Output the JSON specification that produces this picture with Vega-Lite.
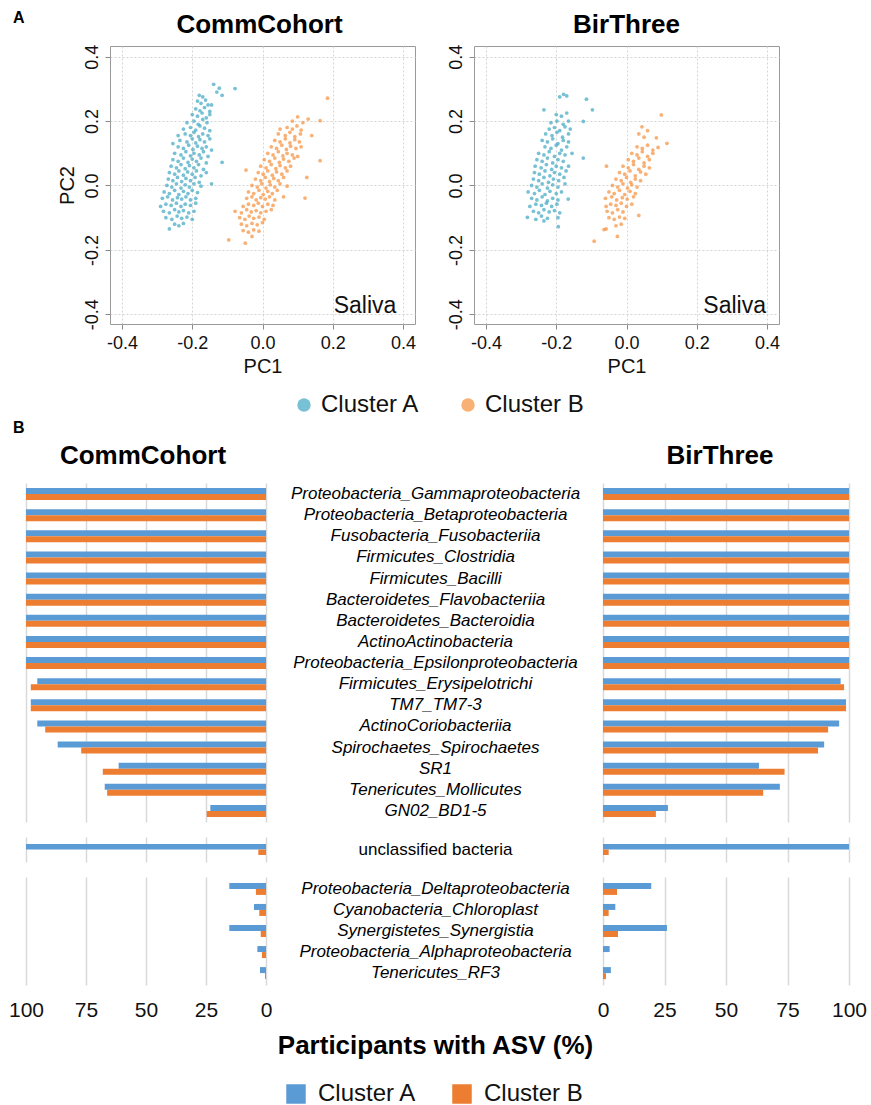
{
  "$schema": "https://vega.github.io/schema/vega-lite/v6.json",
  "background": "white",
  "padding": {"left": 8, "top": 10, "right": 0, "bottom": 0},
  "config": {
    "font": "Liberation Sans",
    "view": {"stroke": null},
    "title": {"font": "Liberation Sans", "color": "#000000"},
    "axis": {"labelFont": "Liberation Sans", "titleFont": "Liberation Sans", "labelColor": "#111111", "titleColor": "#111111"},
    "legend": {"labelFont": "Liberation Sans", "labelColor": "#111111"}
  },
  "datasets": {
    "comm": [
      {"cl":"Cluster A","pc1":-0.18,"pc2":0.28},{"cl":"Cluster A","pc1":-0.17,"pc2":0.275},
      {"cl":"Cluster A","pc1":-0.185,"pc2":0.262},{"cl":"Cluster A","pc1":-0.175,"pc2":0.255},{"cl":"Cluster A","pc1":-0.162,"pc2":0.265},{"cl":"Cluster A","pc1":-0.155,"pc2":0.25},
      {"cl":"Cluster A","pc1":-0.19,"pc2":0.238},{"cl":"Cluster A","pc1":-0.178,"pc2":0.232},{"cl":"Cluster A","pc1":-0.165,"pc2":0.242},
      {"cl":"Cluster A","pc1":-0.2,"pc2":0.22},{"cl":"Cluster A","pc1":-0.185,"pc2":0.215},{"cl":"Cluster A","pc1":-0.172,"pc2":0.225},{"cl":"Cluster A","pc1":-0.16,"pc2":0.21},{"cl":"Cluster A","pc1":-0.15,"pc2":0.22},
      {"cl":"Cluster A","pc1":-0.215,"pc2":0.195},{"cl":"Cluster A","pc1":-0.195,"pc2":0.2},{"cl":"Cluster A","pc1":-0.183,"pc2":0.19},{"cl":"Cluster A","pc1":-0.17,"pc2":0.205},{"cl":"Cluster A","pc1":-0.158,"pc2":0.195},
      {"cl":"Cluster A","pc1":-0.225,"pc2":0.175},{"cl":"Cluster A","pc1":-0.205,"pc2":0.18},{"cl":"Cluster A","pc1":-0.19,"pc2":0.172},{"cl":"Cluster A","pc1":-0.178,"pc2":0.185},{"cl":"Cluster A","pc1":-0.165,"pc2":0.178},{"cl":"Cluster A","pc1":-0.15,"pc2":0.17},
      {"cl":"Cluster A","pc1":-0.24,"pc2":0.155},{"cl":"Cluster A","pc1":-0.22,"pc2":0.16},{"cl":"Cluster A","pc1":-0.205,"pc2":0.155},{"cl":"Cluster A","pc1":-0.195,"pc2":0.165},{"cl":"Cluster A","pc1":-0.182,"pc2":0.152},{"cl":"Cluster A","pc1":-0.17,"pc2":0.16},{"cl":"Cluster A","pc1":-0.155,"pc2":0.155},
      {"cl":"Cluster A","pc1":-0.255,"pc2":0.13},{"cl":"Cluster A","pc1":-0.235,"pc2":0.14},{"cl":"Cluster A","pc1":-0.215,"pc2":0.135},{"cl":"Cluster A","pc1":-0.2,"pc2":0.145},{"cl":"Cluster A","pc1":-0.19,"pc2":0.132},{"cl":"Cluster A","pc1":-0.178,"pc2":0.142},{"cl":"Cluster A","pc1":-0.165,"pc2":0.135},{"cl":"Cluster A","pc1":-0.15,"pc2":0.145},
      {"cl":"Cluster A","pc1":-0.24,"pc2":0.12},{"cl":"Cluster A","pc1":-0.225,"pc2":0.115},{"cl":"Cluster A","pc1":-0.21,"pc2":0.125},{"cl":"Cluster A","pc1":-0.198,"pc2":0.112},{"cl":"Cluster A","pc1":-0.185,"pc2":0.122},{"cl":"Cluster A","pc1":-0.172,"pc2":0.115},{"cl":"Cluster A","pc1":-0.16,"pc2":0.12},{"cl":"Cluster A","pc1":-0.145,"pc2":0.11},
      {"cl":"Cluster A","pc1":-0.25,"pc2":0.1},{"cl":"Cluster A","pc1":-0.232,"pc2":0.095},{"cl":"Cluster A","pc1":-0.218,"pc2":0.105},{"cl":"Cluster A","pc1":-0.205,"pc2":0.092},{"cl":"Cluster A","pc1":-0.195,"pc2":0.1},{"cl":"Cluster A","pc1":-0.18,"pc2":0.095},{"cl":"Cluster A","pc1":-0.168,"pc2":0.105},{"cl":"Cluster A","pc1":-0.155,"pc2":0.09},
      {"cl":"Cluster A","pc1":-0.255,"pc2":0.08},{"cl":"Cluster A","pc1":-0.24,"pc2":0.075},{"cl":"Cluster A","pc1":-0.225,"pc2":0.085},{"cl":"Cluster A","pc1":-0.212,"pc2":0.072},{"cl":"Cluster A","pc1":-0.2,"pc2":0.082},{"cl":"Cluster A","pc1":-0.188,"pc2":0.075},{"cl":"Cluster A","pc1":-0.175,"pc2":0.085},{"cl":"Cluster A","pc1":-0.16,"pc2":0.07},{"cl":"Cluster A","pc1":-0.115,"pc2":0.072},
      {"cl":"Cluster A","pc1":-0.26,"pc2":0.06},{"cl":"Cluster A","pc1":-0.245,"pc2":0.055},{"cl":"Cluster A","pc1":-0.232,"pc2":0.065},{"cl":"Cluster A","pc1":-0.22,"pc2":0.052},{"cl":"Cluster A","pc1":-0.208,"pc2":0.062},{"cl":"Cluster A","pc1":-0.195,"pc2":0.055},{"cl":"Cluster A","pc1":-0.182,"pc2":0.065},{"cl":"Cluster A","pc1":-0.168,"pc2":0.05},
      {"cl":"Cluster A","pc1":-0.265,"pc2":0.04},{"cl":"Cluster A","pc1":-0.25,"pc2":0.035},{"cl":"Cluster A","pc1":-0.238,"pc2":0.045},{"cl":"Cluster A","pc1":-0.225,"pc2":0.032},{"cl":"Cluster A","pc1":-0.213,"pc2":0.042},{"cl":"Cluster A","pc1":-0.2,"pc2":0.035},{"cl":"Cluster A","pc1":-0.188,"pc2":0.045},{"cl":"Cluster A","pc1":-0.175,"pc2":0.03},{"cl":"Cluster A","pc1":-0.16,"pc2":0.04},
      {"cl":"Cluster A","pc1":-0.268,"pc2":0.02},{"cl":"Cluster A","pc1":-0.255,"pc2":0.015},{"cl":"Cluster A","pc1":-0.242,"pc2":0.025},{"cl":"Cluster A","pc1":-0.23,"pc2":0.012},{"cl":"Cluster A","pc1":-0.218,"pc2":0.022},{"cl":"Cluster A","pc1":-0.205,"pc2":0.015},{"cl":"Cluster A","pc1":-0.192,"pc2":0.025},{"cl":"Cluster A","pc1":-0.18,"pc2":0.01},
      {"cl":"Cluster A","pc1":-0.272,"pc2":0.0},{"cl":"Cluster A","pc1":-0.258,"pc2":-0.005},{"cl":"Cluster A","pc1":-0.245,"pc2":0.005},{"cl":"Cluster A","pc1":-0.232,"pc2":-0.008},{"cl":"Cluster A","pc1":-0.22,"pc2":0.002},{"cl":"Cluster A","pc1":-0.208,"pc2":-0.005},{"cl":"Cluster A","pc1":-0.195,"pc2":0.005},{"cl":"Cluster A","pc1":-0.175,"pc2":-0.002},{"cl":"Cluster A","pc1":-0.145,"pc2":0.005},
      {"cl":"Cluster A","pc1":-0.28,"pc2":-0.02},{"cl":"Cluster A","pc1":-0.265,"pc2":-0.025},{"cl":"Cluster A","pc1":-0.25,"pc2":-0.015},{"cl":"Cluster A","pc1":-0.238,"pc2":-0.028},{"cl":"Cluster A","pc1":-0.225,"pc2":-0.018},{"cl":"Cluster A","pc1":-0.212,"pc2":-0.025},{"cl":"Cluster A","pc1":-0.2,"pc2":-0.015},{"cl":"Cluster A","pc1":-0.185,"pc2":-0.022},
      {"cl":"Cluster A","pc1":-0.285,"pc2":-0.04},{"cl":"Cluster A","pc1":-0.27,"pc2":-0.035},{"cl":"Cluster A","pc1":-0.256,"pc2":-0.045},{"cl":"Cluster A","pc1":-0.242,"pc2":-0.038},{"cl":"Cluster A","pc1":-0.23,"pc2":-0.042},{"cl":"Cluster A","pc1":-0.218,"pc2":-0.035},{"cl":"Cluster A","pc1":-0.205,"pc2":-0.045},{"cl":"Cluster A","pc1":-0.19,"pc2":-0.04},
      {"cl":"Cluster A","pc1":-0.29,"pc2":-0.065},{"cl":"Cluster A","pc1":-0.275,"pc2":-0.058},{"cl":"Cluster A","pc1":-0.26,"pc2":-0.062},{"cl":"Cluster A","pc1":-0.245,"pc2":-0.055},{"cl":"Cluster A","pc1":-0.232,"pc2":-0.065},{"cl":"Cluster A","pc1":-0.22,"pc2":-0.058},{"cl":"Cluster A","pc1":-0.205,"pc2":-0.062},{"cl":"Cluster A","pc1":-0.19,"pc2":-0.055},
      {"cl":"Cluster A","pc1":-0.282,"pc2":-0.08},{"cl":"Cluster A","pc1":-0.265,"pc2":-0.085},{"cl":"Cluster A","pc1":-0.25,"pc2":-0.075},{"cl":"Cluster A","pc1":-0.238,"pc2":-0.082},{"cl":"Cluster A","pc1":-0.225,"pc2":-0.078},{"cl":"Cluster A","pc1":-0.21,"pc2":-0.085},{"cl":"Cluster A","pc1":-0.195,"pc2":-0.08},
      {"cl":"Cluster A","pc1":-0.275,"pc2":-0.1},{"cl":"Cluster A","pc1":-0.258,"pc2":-0.105},{"cl":"Cluster A","pc1":-0.243,"pc2":-0.095},{"cl":"Cluster A","pc1":-0.23,"pc2":-0.102},{"cl":"Cluster A","pc1":-0.215,"pc2":-0.098},{"cl":"Cluster A","pc1":-0.2,"pc2":-0.105},
      {"cl":"Cluster A","pc1":-0.265,"pc2":-0.135},{"cl":"Cluster A","pc1":-0.25,"pc2":-0.12},{"cl":"Cluster A","pc1":-0.238,"pc2":-0.125},{"cl":"Cluster A","pc1":-0.225,"pc2":-0.118},
      {"cl":"Cluster A","pc1":-0.139,"pc2":0.314},{"cl":"Cluster A","pc1":-0.123,"pc2":0.302},{"cl":"Cluster A","pc1":-0.078,"pc2":0.301},{"cl":"Cluster A","pc1":-0.115,"pc2":0.28},{"cl":"Cluster A","pc1":-0.13,"pc2":0.29},{"cl":"Cluster A","pc1":-0.145,"pc2":0.25},{"cl":"Cluster A","pc1":-0.15,"pc2":0.23},
      {"cl":"Cluster B","pc1":0.185,"pc2":0.271},
      {"cl":"Cluster B","pc1":0.1,"pc2":0.213},{"cl":"Cluster B","pc1":0.13,"pc2":0.206},{"cl":"Cluster B","pc1":0.164,"pc2":0.201},{"cl":"Cluster B","pc1":0.085,"pc2":0.2},{"cl":"Cluster B","pc1":0.115,"pc2":0.195},
      {"cl":"Cluster B","pc1":0.07,"pc2":0.18},{"cl":"Cluster B","pc1":0.085,"pc2":0.175},{"cl":"Cluster B","pc1":0.098,"pc2":0.185},{"cl":"Cluster B","pc1":0.11,"pc2":0.172},{"cl":"Cluster B","pc1":0.05,"pc2":0.175},
      {"cl":"Cluster B","pc1":0.045,"pc2":0.16},{"cl":"Cluster B","pc1":0.065,"pc2":0.155},{"cl":"Cluster B","pc1":0.078,"pc2":0.165},{"cl":"Cluster B","pc1":0.092,"pc2":0.152},{"cl":"Cluster B","pc1":0.108,"pc2":0.16},{"cl":"Cluster B","pc1":0.14,"pc2":0.155},
      {"cl":"Cluster B","pc1":0.035,"pc2":0.14},{"cl":"Cluster B","pc1":0.05,"pc2":0.135},{"cl":"Cluster B","pc1":0.065,"pc2":0.145},{"cl":"Cluster B","pc1":0.078,"pc2":0.132},{"cl":"Cluster B","pc1":0.092,"pc2":0.142},{"cl":"Cluster B","pc1":0.105,"pc2":0.135},
      {"cl":"Cluster B","pc1":0.025,"pc2":0.12},{"cl":"Cluster B","pc1":0.04,"pc2":0.115},{"cl":"Cluster B","pc1":0.055,"pc2":0.125},{"cl":"Cluster B","pc1":0.068,"pc2":0.112},{"cl":"Cluster B","pc1":0.08,"pc2":0.122},{"cl":"Cluster B","pc1":0.095,"pc2":0.115},{"cl":"Cluster B","pc1":0.11,"pc2":0.12},
      {"cl":"Cluster B","pc1":0.015,"pc2":0.1},{"cl":"Cluster B","pc1":0.03,"pc2":0.095},{"cl":"Cluster B","pc1":0.045,"pc2":0.105},{"cl":"Cluster B","pc1":0.058,"pc2":0.092},{"cl":"Cluster B","pc1":0.07,"pc2":0.1},{"cl":"Cluster B","pc1":0.085,"pc2":0.095},{"cl":"Cluster B","pc1":0.1,"pc2":0.09},
      {"cl":"Cluster B","pc1":0.005,"pc2":0.08},{"cl":"Cluster B","pc1":0.02,"pc2":0.075},{"cl":"Cluster B","pc1":0.035,"pc2":0.085},{"cl":"Cluster B","pc1":0.048,"pc2":0.072},{"cl":"Cluster B","pc1":0.06,"pc2":0.082},{"cl":"Cluster B","pc1":0.075,"pc2":0.075},{"cl":"Cluster B","pc1":0.09,"pc2":0.085},{"cl":"Cluster B","pc1":0.164,"pc2":0.077},
      {"cl":"Cluster B","pc1":-0.005,"pc2":0.06},{"cl":"Cluster B","pc1":0.01,"pc2":0.055},{"cl":"Cluster B","pc1":0.025,"pc2":0.065},{"cl":"Cluster B","pc1":0.038,"pc2":0.052},{"cl":"Cluster B","pc1":0.05,"pc2":0.062},{"cl":"Cluster B","pc1":0.065,"pc2":0.055},{"cl":"Cluster B","pc1":0.08,"pc2":0.06},
      {"cl":"Cluster B","pc1":-0.047,"pc2":0.048},{"cl":"Cluster B","pc1":-0.012,"pc2":0.04},{"cl":"Cluster B","pc1":0.002,"pc2":0.035},{"cl":"Cluster B","pc1":0.015,"pc2":0.045},{"cl":"Cluster B","pc1":0.028,"pc2":0.032},{"cl":"Cluster B","pc1":0.04,"pc2":0.042},{"cl":"Cluster B","pc1":0.055,"pc2":0.035},{"cl":"Cluster B","pc1":0.07,"pc2":0.045},
      {"cl":"Cluster B","pc1":-0.02,"pc2":0.02},{"cl":"Cluster B","pc1":-0.005,"pc2":0.015},{"cl":"Cluster B","pc1":0.008,"pc2":0.025},{"cl":"Cluster B","pc1":0.02,"pc2":0.012},{"cl":"Cluster B","pc1":0.032,"pc2":0.022},{"cl":"Cluster B","pc1":0.045,"pc2":0.015},{"cl":"Cluster B","pc1":0.06,"pc2":0.025},{"cl":"Cluster B","pc1":0.126,"pc2":0.025},
      {"cl":"Cluster B","pc1":-0.03,"pc2":0.0},{"cl":"Cluster B","pc1":-0.015,"pc2":-0.005},{"cl":"Cluster B","pc1":-0.002,"pc2":0.005},{"cl":"Cluster B","pc1":0.01,"pc2":-0.008},{"cl":"Cluster B","pc1":0.022,"pc2":0.002},{"cl":"Cluster B","pc1":0.035,"pc2":-0.005},{"cl":"Cluster B","pc1":0.05,"pc2":0.005},{"cl":"Cluster B","pc1":0.07,"pc2":-0.002},
      {"cl":"Cluster B","pc1":-0.04,"pc2":-0.02},{"cl":"Cluster B","pc1":-0.025,"pc2":-0.025},{"cl":"Cluster B","pc1":-0.01,"pc2":-0.015},{"cl":"Cluster B","pc1":0.002,"pc2":-0.028},{"cl":"Cluster B","pc1":0.015,"pc2":-0.018},{"cl":"Cluster B","pc1":0.028,"pc2":-0.025},{"cl":"Cluster B","pc1":0.042,"pc2":-0.015},
      {"cl":"Cluster B","pc1":-0.045,"pc2":-0.04},{"cl":"Cluster B","pc1":-0.03,"pc2":-0.035},{"cl":"Cluster B","pc1":-0.018,"pc2":-0.045},{"cl":"Cluster B","pc1":-0.005,"pc2":-0.038},{"cl":"Cluster B","pc1":0.008,"pc2":-0.042},{"cl":"Cluster B","pc1":0.02,"pc2":-0.035},{"cl":"Cluster B","pc1":0.035,"pc2":-0.045},{"cl":"Cluster B","pc1":0.121,"pc2":-0.039},{"cl":"Cluster B","pc1":0.06,"pc2":-0.035},
      {"cl":"Cluster B","pc1":-0.055,"pc2":-0.065},{"cl":"Cluster B","pc1":-0.04,"pc2":-0.058},{"cl":"Cluster B","pc1":-0.025,"pc2":-0.062},{"cl":"Cluster B","pc1":-0.012,"pc2":-0.055},{"cl":"Cluster B","pc1":0.0,"pc2":-0.065},{"cl":"Cluster B","pc1":0.015,"pc2":-0.058},{"cl":"Cluster B","pc1":0.03,"pc2":-0.062},
      {"cl":"Cluster B","pc1":-0.078,"pc2":-0.08},{"cl":"Cluster B","pc1":-0.06,"pc2":-0.085},{"cl":"Cluster B","pc1":-0.045,"pc2":-0.075},{"cl":"Cluster B","pc1":-0.032,"pc2":-0.082},{"cl":"Cluster B","pc1":-0.018,"pc2":-0.078},{"cl":"Cluster B","pc1":-0.005,"pc2":-0.085},{"cl":"Cluster B","pc1":0.01,"pc2":-0.08},{"cl":"Cluster B","pc1":0.025,"pc2":-0.075},
      {"cl":"Cluster B","pc1":-0.065,"pc2":-0.1},{"cl":"Cluster B","pc1":-0.05,"pc2":-0.105},{"cl":"Cluster B","pc1":-0.038,"pc2":-0.095},{"cl":"Cluster B","pc1":-0.025,"pc2":-0.102},{"cl":"Cluster B","pc1":-0.01,"pc2":-0.098},{"cl":"Cluster B","pc1":0.005,"pc2":-0.105},
      {"cl":"Cluster B","pc1":-0.06,"pc2":-0.12},{"cl":"Cluster B","pc1":-0.045,"pc2":-0.125},{"cl":"Cluster B","pc1":-0.03,"pc2":-0.118},{"cl":"Cluster B","pc1":-0.015,"pc2":-0.122},{"cl":"Cluster B","pc1":0.0,"pc2":-0.115},
      {"cl":"Cluster B","pc1":-0.055,"pc2":-0.14},{"cl":"Cluster B","pc1":-0.04,"pc2":-0.145},{"cl":"Cluster B","pc1":-0.025,"pc2":-0.138},{"cl":"Cluster B","pc1":-0.01,"pc2":-0.142},
      {"cl":"Cluster B","pc1":-0.096,"pc2":-0.169},{"cl":"Cluster B","pc1":-0.049,"pc2":-0.179},{"cl":"Cluster B","pc1":-0.03,"pc2":-0.158}
    ],
    "bir": [
      {"cl":"Cluster A","pc1":-0.179,"pc2":0.283},{"cl":"Cluster A","pc1":-0.19,"pc2":0.275},{"cl":"Cluster A","pc1":-0.17,"pc2":0.278},
      {"cl":"Cluster A","pc1":-0.114,"pc2":0.268},{"cl":"Cluster A","pc1":-0.097,"pc2":0.235},{"cl":"Cluster A","pc1":-0.123,"pc2":0.199},{"cl":"Cluster A","pc1":-0.235,"pc2":0.235},
      {"cl":"Cluster A","pc1":-0.2,"pc2":0.22},{"cl":"Cluster A","pc1":-0.185,"pc2":0.215},{"cl":"Cluster A","pc1":-0.17,"pc2":0.225},
      {"cl":"Cluster A","pc1":-0.215,"pc2":0.195},{"cl":"Cluster A","pc1":-0.198,"pc2":0.2},{"cl":"Cluster A","pc1":-0.18,"pc2":0.19},{"cl":"Cluster A","pc1":-0.165,"pc2":0.2},
      {"cl":"Cluster A","pc1":-0.22,"pc2":0.175},{"cl":"Cluster A","pc1":-0.205,"pc2":0.18},{"cl":"Cluster A","pc1":-0.19,"pc2":0.17},{"cl":"Cluster A","pc1":-0.175,"pc2":0.182},{"cl":"Cluster A","pc1":-0.16,"pc2":0.175},
      {"cl":"Cluster A","pc1":-0.23,"pc2":0.16},{"cl":"Cluster A","pc1":-0.212,"pc2":0.155},{"cl":"Cluster A","pc1":-0.198,"pc2":0.165},{"cl":"Cluster A","pc1":-0.182,"pc2":0.15},{"cl":"Cluster A","pc1":-0.165,"pc2":0.16},
      {"cl":"Cluster A","pc1":-0.24,"pc2":0.14},{"cl":"Cluster A","pc1":-0.225,"pc2":0.135},{"cl":"Cluster A","pc1":-0.21,"pc2":0.145},{"cl":"Cluster A","pc1":-0.195,"pc2":0.13},{"cl":"Cluster A","pc1":-0.18,"pc2":0.14},{"cl":"Cluster A","pc1":-0.165,"pc2":0.135},
      {"cl":"Cluster A","pc1":-0.232,"pc2":0.12},{"cl":"Cluster A","pc1":-0.215,"pc2":0.115},{"cl":"Cluster A","pc1":-0.2,"pc2":0.125},{"cl":"Cluster A","pc1":-0.185,"pc2":0.11},{"cl":"Cluster A","pc1":-0.17,"pc2":0.12},
      {"cl":"Cluster A","pc1":-0.25,"pc2":0.1},{"cl":"Cluster A","pc1":-0.235,"pc2":0.095},{"cl":"Cluster A","pc1":-0.22,"pc2":0.105},{"cl":"Cluster A","pc1":-0.205,"pc2":0.09},{"cl":"Cluster A","pc1":-0.19,"pc2":0.1},{"cl":"Cluster A","pc1":-0.175,"pc2":0.095},{"cl":"Cluster A","pc1":-0.155,"pc2":0.1},
      {"cl":"Cluster A","pc1":-0.255,"pc2":0.08},{"cl":"Cluster A","pc1":-0.24,"pc2":0.075},{"cl":"Cluster A","pc1":-0.225,"pc2":0.085},{"cl":"Cluster A","pc1":-0.21,"pc2":0.07},{"cl":"Cluster A","pc1":-0.195,"pc2":0.08},{"cl":"Cluster A","pc1":-0.18,"pc2":0.075},{"cl":"Cluster A","pc1":-0.123,"pc2":0.085},
      {"cl":"Cluster A","pc1":-0.26,"pc2":0.06},{"cl":"Cluster A","pc1":-0.243,"pc2":0.055},{"cl":"Cluster A","pc1":-0.228,"pc2":0.065},{"cl":"Cluster A","pc1":-0.213,"pc2":0.05},{"cl":"Cluster A","pc1":-0.2,"pc2":0.06},{"cl":"Cluster A","pc1":-0.185,"pc2":0.055},{"cl":"Cluster A","pc1":-0.165,"pc2":0.06},
      {"cl":"Cluster A","pc1":-0.262,"pc2":0.04},{"cl":"Cluster A","pc1":-0.248,"pc2":0.035},{"cl":"Cluster A","pc1":-0.232,"pc2":0.045},{"cl":"Cluster A","pc1":-0.218,"pc2":0.03},{"cl":"Cluster A","pc1":-0.205,"pc2":0.04},{"cl":"Cluster A","pc1":-0.19,"pc2":0.035},{"cl":"Cluster A","pc1":-0.172,"pc2":0.045},
      {"cl":"Cluster A","pc1":-0.265,"pc2":0.02},{"cl":"Cluster A","pc1":-0.25,"pc2":0.015},{"cl":"Cluster A","pc1":-0.235,"pc2":0.025},{"cl":"Cluster A","pc1":-0.222,"pc2":0.01},{"cl":"Cluster A","pc1":-0.208,"pc2":0.02},{"cl":"Cluster A","pc1":-0.193,"pc2":0.015},{"cl":"Cluster A","pc1":-0.178,"pc2":0.025},
      {"cl":"Cluster A","pc1":-0.27,"pc2":0.0},{"cl":"Cluster A","pc1":-0.255,"pc2":-0.005},{"cl":"Cluster A","pc1":-0.24,"pc2":0.005},{"cl":"Cluster A","pc1":-0.225,"pc2":-0.008},{"cl":"Cluster A","pc1":-0.21,"pc2":0.002},{"cl":"Cluster A","pc1":-0.195,"pc2":-0.005},{"cl":"Cluster A","pc1":-0.175,"pc2":0.005},
      {"cl":"Cluster A","pc1":-0.28,"pc2":-0.02},{"cl":"Cluster A","pc1":-0.262,"pc2":-0.025},{"cl":"Cluster A","pc1":-0.248,"pc2":-0.015},{"cl":"Cluster A","pc1":-0.232,"pc2":-0.028},{"cl":"Cluster A","pc1":-0.218,"pc2":-0.018},{"cl":"Cluster A","pc1":-0.2,"pc2":-0.025},{"cl":"Cluster A","pc1":-0.185,"pc2":-0.02},
      {"cl":"Cluster A","pc1":-0.27,"pc2":-0.04},{"cl":"Cluster A","pc1":-0.255,"pc2":-0.045},{"cl":"Cluster A","pc1":-0.24,"pc2":-0.035},{"cl":"Cluster A","pc1":-0.225,"pc2":-0.048},{"cl":"Cluster A","pc1":-0.21,"pc2":-0.04},{"cl":"Cluster A","pc1":-0.195,"pc2":-0.045},{"cl":"Cluster A","pc1":-0.166,"pc2":-0.042},
      {"cl":"Cluster A","pc1":-0.275,"pc2":-0.065},{"cl":"Cluster A","pc1":-0.258,"pc2":-0.058},{"cl":"Cluster A","pc1":-0.242,"pc2":-0.062},{"cl":"Cluster A","pc1":-0.228,"pc2":-0.055},{"cl":"Cluster A","pc1":-0.213,"pc2":-0.065},{"cl":"Cluster A","pc1":-0.198,"pc2":-0.058},
      {"cl":"Cluster A","pc1":-0.265,"pc2":-0.08},{"cl":"Cluster A","pc1":-0.25,"pc2":-0.085},{"cl":"Cluster A","pc1":-0.235,"pc2":-0.075},{"cl":"Cluster A","pc1":-0.22,"pc2":-0.082},{"cl":"Cluster A","pc1":-0.205,"pc2":-0.078},{"cl":"Cluster A","pc1":-0.19,"pc2":-0.085},
      {"cl":"Cluster A","pc1":-0.282,"pc2":-0.099},{"cl":"Cluster A","pc1":-0.258,"pc2":-0.105},{"cl":"Cluster A","pc1":-0.242,"pc2":-0.095},{"cl":"Cluster A","pc1":-0.225,"pc2":-0.102},{"cl":"Cluster A","pc1":-0.195,"pc2":-0.1},
      {"cl":"Cluster A","pc1":-0.194,"pc2":-0.128},{"cl":"Cluster A","pc1":-0.235,"pc2":-0.11},
      {"cl":"Cluster B","pc1":0.099,"pc2":0.219},{"cl":"Cluster B","pc1":0.044,"pc2":0.182},{"cl":"Cluster B","pc1":0.06,"pc2":0.17},{"cl":"Cluster B","pc1":0.035,"pc2":0.16},{"cl":"Cluster B","pc1":0.05,"pc2":0.15},{"cl":"Cluster B","pc1":0.085,"pc2":0.148},{"cl":"Cluster B","pc1":0.115,"pc2":0.131},
      {"cl":"Cluster B","pc1":0.03,"pc2":0.12},{"cl":"Cluster B","pc1":0.045,"pc2":0.115},{"cl":"Cluster B","pc1":0.06,"pc2":0.125},{"cl":"Cluster B","pc1":0.075,"pc2":0.11},{"cl":"Cluster B","pc1":0.09,"pc2":0.118},
      {"cl":"Cluster B","pc1":0.015,"pc2":0.1},{"cl":"Cluster B","pc1":0.03,"pc2":0.095},{"cl":"Cluster B","pc1":0.045,"pc2":0.105},{"cl":"Cluster B","pc1":0.06,"pc2":0.09},{"cl":"Cluster B","pc1":0.075,"pc2":0.1},
      {"cl":"Cluster B","pc1":0.005,"pc2":0.08},{"cl":"Cluster B","pc1":0.02,"pc2":0.075},{"cl":"Cluster B","pc1":0.035,"pc2":0.085},{"cl":"Cluster B","pc1":0.05,"pc2":0.07},{"cl":"Cluster B","pc1":0.065,"pc2":0.08},
      {"cl":"Cluster B","pc1":-0.057,"pc2":0.06},{"cl":"Cluster B","pc1":-0.01,"pc2":0.06},{"cl":"Cluster B","pc1":0.005,"pc2":0.055},{"cl":"Cluster B","pc1":0.02,"pc2":0.065},{"cl":"Cluster B","pc1":0.035,"pc2":0.05},{"cl":"Cluster B","pc1":0.05,"pc2":0.06},{"cl":"Cluster B","pc1":0.065,"pc2":0.055},
      {"cl":"Cluster B","pc1":-0.02,"pc2":0.04},{"cl":"Cluster B","pc1":-0.005,"pc2":0.035},{"cl":"Cluster B","pc1":0.01,"pc2":0.045},{"cl":"Cluster B","pc1":0.025,"pc2":0.03},{"cl":"Cluster B","pc1":0.04,"pc2":0.042},{"cl":"Cluster B","pc1":0.055,"pc2":0.035},
      {"cl":"Cluster B","pc1":-0.03,"pc2":0.02},{"cl":"Cluster B","pc1":-0.015,"pc2":0.015},{"cl":"Cluster B","pc1":0.0,"pc2":0.025},{"cl":"Cluster B","pc1":0.012,"pc2":0.01},{"cl":"Cluster B","pc1":0.025,"pc2":0.02},{"cl":"Cluster B","pc1":0.04,"pc2":0.015},
      {"cl":"Cluster B","pc1":-0.04,"pc2":0.0},{"cl":"Cluster B","pc1":-0.025,"pc2":-0.005},{"cl":"Cluster B","pc1":-0.01,"pc2":0.005},{"cl":"Cluster B","pc1":0.003,"pc2":-0.008},{"cl":"Cluster B","pc1":0.015,"pc2":0.002},{"cl":"Cluster B","pc1":0.03,"pc2":-0.005},
      {"cl":"Cluster B","pc1":-0.05,"pc2":-0.02},{"cl":"Cluster B","pc1":-0.035,"pc2":-0.025},{"cl":"Cluster B","pc1":-0.02,"pc2":-0.015},{"cl":"Cluster B","pc1":-0.005,"pc2":-0.028},{"cl":"Cluster B","pc1":0.01,"pc2":-0.018},{"cl":"Cluster B","pc1":0.025,"pc2":-0.025},
      {"cl":"Cluster B","pc1":-0.06,"pc2":-0.04},{"cl":"Cluster B","pc1":-0.042,"pc2":-0.035},{"cl":"Cluster B","pc1":-0.028,"pc2":-0.045},{"cl":"Cluster B","pc1":-0.012,"pc2":-0.038},{"cl":"Cluster B","pc1":0.002,"pc2":-0.042},{"cl":"Cluster B","pc1":0.02,"pc2":-0.035},
      {"cl":"Cluster B","pc1":-0.058,"pc2":-0.065},{"cl":"Cluster B","pc1":-0.045,"pc2":-0.058},{"cl":"Cluster B","pc1":-0.03,"pc2":-0.062},{"cl":"Cluster B","pc1":-0.015,"pc2":-0.055},{"cl":"Cluster B","pc1":0.0,"pc2":-0.065},{"cl":"Cluster B","pc1":0.015,"pc2":-0.058},
      {"cl":"Cluster B","pc1":-0.055,"pc2":-0.08},{"cl":"Cluster B","pc1":-0.04,"pc2":-0.085},{"cl":"Cluster B","pc1":-0.025,"pc2":-0.075},{"cl":"Cluster B","pc1":-0.01,"pc2":-0.082},{"cl":"Cluster B","pc1":0.035,"pc2":-0.093},
      {"cl":"Cluster B","pc1":-0.05,"pc2":-0.1},{"cl":"Cluster B","pc1":-0.035,"pc2":-0.105},{"cl":"Cluster B","pc1":-0.02,"pc2":-0.098},{"cl":"Cluster B","pc1":-0.005,"pc2":-0.102},
      {"cl":"Cluster B","pc1":-0.064,"pc2":-0.137},{"cl":"Cluster B","pc1":-0.058,"pc2":-0.135},{"cl":"Cluster B","pc1":-0.026,"pc2":-0.158},{"cl":"Cluster B","pc1":-0.092,"pc2":-0.173},{"cl":"Cluster B","pc1":-0.03,"pc2":-0.125},{"cl":"Cluster B","pc1":-0.015,"pc2":-0.12}
    ],
    "bars": [
      {"grp":1,"rank":1,"taxon":"Proteobacteria_Gammaproteobacteria","cl":"Cluster A","comm":100,"bir":100},
      {"grp":1,"rank":1,"taxon":"Proteobacteria_Gammaproteobacteria","cl":"Cluster B","comm":100,"bir":100},
      {"grp":1,"rank":2,"taxon":"Proteobacteria_Betaproteobacteria","cl":"Cluster A","comm":100,"bir":100},
      {"grp":1,"rank":2,"taxon":"Proteobacteria_Betaproteobacteria","cl":"Cluster B","comm":100,"bir":100},
      {"grp":1,"rank":3,"taxon":"Fusobacteria_Fusobacteriia","cl":"Cluster A","comm":100,"bir":100},
      {"grp":1,"rank":3,"taxon":"Fusobacteria_Fusobacteriia","cl":"Cluster B","comm":100,"bir":100},
      {"grp":1,"rank":4,"taxon":"Firmicutes_Clostridia","cl":"Cluster A","comm":100,"bir":100},
      {"grp":1,"rank":4,"taxon":"Firmicutes_Clostridia","cl":"Cluster B","comm":100,"bir":100},
      {"grp":1,"rank":5,"taxon":"Firmicutes_Bacilli","cl":"Cluster A","comm":100,"bir":100},
      {"grp":1,"rank":5,"taxon":"Firmicutes_Bacilli","cl":"Cluster B","comm":100,"bir":100},
      {"grp":1,"rank":6,"taxon":"Bacteroidetes_Flavobacteriia","cl":"Cluster A","comm":100,"bir":100},
      {"grp":1,"rank":6,"taxon":"Bacteroidetes_Flavobacteriia","cl":"Cluster B","comm":100,"bir":100},
      {"grp":1,"rank":7,"taxon":"Bacteroidetes_Bacteroidia","cl":"Cluster A","comm":100,"bir":100},
      {"grp":1,"rank":7,"taxon":"Bacteroidetes_Bacteroidia","cl":"Cluster B","comm":100,"bir":100},
      {"grp":1,"rank":8,"taxon":"ActinoActinobacteria","cl":"Cluster A","comm":100,"bir":100},
      {"grp":1,"rank":8,"taxon":"ActinoActinobacteria","cl":"Cluster B","comm":100,"bir":100},
      {"grp":1,"rank":9,"taxon":"Proteobacteria_Epsilonproteobacteria","cl":"Cluster A","comm":100,"bir":100},
      {"grp":1,"rank":9,"taxon":"Proteobacteria_Epsilonproteobacteria","cl":"Cluster B","comm":100,"bir":100},
      {"grp":1,"rank":10,"taxon":"Firmicutes_Erysipelotrichi","cl":"Cluster A","comm":95.3,"bir":96.6},
      {"grp":1,"rank":10,"taxon":"Firmicutes_Erysipelotrichi","cl":"Cluster B","comm":98,"bir":98},
      {"grp":1,"rank":11,"taxon":"TM7_TM7-3","cl":"Cluster A","comm":98,"bir":98.8},
      {"grp":1,"rank":11,"taxon":"TM7_TM7-3","cl":"Cluster B","comm":98,"bir":98.8},
      {"grp":1,"rank":12,"taxon":"ActinoCoriobacteriia","cl":"Cluster A","comm":95.3,"bir":96},
      {"grp":1,"rank":12,"taxon":"ActinoCoriobacteriia","cl":"Cluster B","comm":92,"bir":91.5},
      {"grp":1,"rank":13,"taxon":"Spirochaetes_Spirochaetes","cl":"Cluster A","comm":86.8,"bir":89.9},
      {"grp":1,"rank":13,"taxon":"Spirochaetes_Spirochaetes","cl":"Cluster B","comm":77,"bir":87.4},
      {"grp":1,"rank":14,"taxon":"SR1","cl":"Cluster A","comm":61.4,"bir":63.4},
      {"grp":1,"rank":14,"taxon":"SR1","cl":"Cluster B","comm":68,"bir":73.8},
      {"grp":1,"rank":15,"taxon":"Tenericutes_Mollicutes","cl":"Cluster A","comm":67.2,"bir":71.9},
      {"grp":1,"rank":15,"taxon":"Tenericutes_Mollicutes","cl":"Cluster B","comm":66.2,"bir":65.1},
      {"grp":1,"rank":16,"taxon":"GN02_BD1-5","cl":"Cluster A","comm":23.2,"bir":26.4},
      {"grp":1,"rank":16,"taxon":"GN02_BD1-5","cl":"Cluster B","comm":24.7,"bir":21.5},
      {"grp":2,"rank":1,"taxon":"unclassified bacteria","cl":"Cluster A","comm":100,"bir":100},
      {"grp":2,"rank":1,"taxon":"unclassified bacteria","cl":"Cluster B","comm":3.2,"bir":2.3},
      {"grp":3,"rank":1,"taxon":"Proteobacteria_Deltaproteobacteria","cl":"Cluster A","comm":15.3,"bir":19.6},
      {"grp":3,"rank":1,"taxon":"Proteobacteria_Deltaproteobacteria","cl":"Cluster B","comm":4.2,"bir":5.7},
      {"grp":3,"rank":2,"taxon":"Cyanobacteria_Chloroplast","cl":"Cluster A","comm":5,"bir":5},
      {"grp":3,"rank":2,"taxon":"Cyanobacteria_Chloroplast","cl":"Cluster B","comm":2.8,"bir":2.3},
      {"grp":3,"rank":3,"taxon":"Synergistetes_Synergistia","cl":"Cluster A","comm":15.3,"bir":26},
      {"grp":3,"rank":3,"taxon":"Synergistetes_Synergistia","cl":"Cluster B","comm":2.2,"bir":6.1},
      {"grp":3,"rank":4,"taxon":"Proteobacteria_Alphaproteobacteria","cl":"Cluster A","comm":3.6,"bir":2.7},
      {"grp":3,"rank":4,"taxon":"Proteobacteria_Alphaproteobacteria","cl":"Cluster B","comm":1.7,"bir":0},
      {"grp":3,"rank":5,"taxon":"Tenericutes_RF3","cl":"Cluster A","comm":2.5,"bir":3.2},
      {"grp":3,"rank":5,"taxon":"Tenericutes_RF3","cl":"Cluster B","comm":0.4,"bir":1.2}
    ]
  },
  "spacing": 43,
  "resolve": {"scale": {"x": "independent", "y": "independent", "yOffset": "independent"}},
  "vconcat": [
    {
      "bounds": "flush",
      "spacing": 59,
      "resolve": {"scale": {"x": "independent", "y": "independent"}},
      "hconcat": [
        {
          "width": 25, "height": 278,
          "title": {"text": "A", "anchor": "start", "frame": "group", "dx": -13, "offset": 20, "fontSize": 16, "fontWeight": "bold"},
          "data": {"values": []},
          "mark": {"type": "text"}
        },
        {
          "width": 305, "height": 278,
          "view": {"stroke": "#9a9a9a", "strokeWidth": 1},
          "title": {"text": "CommCohort", "fontSize": 26, "fontWeight": "bold", "offset": 6, "dx": -3},
          "layer": [
            {
              "data": {"name": "comm"},
              "mark": {"type": "circle", "size": 14, "opacity": 0.75},
              "encoding": {
                "x": {"field": "pc1", "type": "quantitative",
                  "scale": {"domain": [-0.434, 0.434], "nice": false, "zero": false},
                  "axis": {"title": "PC1", "values": [-0.4, -0.3, -0.2, -0.1, 0, 0.1, 0.2, 0.3, 0.4],
                    "labelExpr": "round(datum.value*10) % 2 === 0 ? (datum.value < 0 ? '-' : '') + format(abs(datum.value), '.1f') : ''",
                    "labelFlush": false, "labelOverlap": false, "labelFontSize": 18, "labelPadding": 5,
                    "tickSize": 5, "tickColor": "#8a8a8a",
                    "tickOpacity": {"condition": {"test": "round(datum.value*10) % 2 !== 0", "value": 0}, "value": 1},
                    "domain": false, "grid": true, "gridColor": "#d4d4d4", "gridDash": [2, 2],
                    "titleFontSize": 20, "titleFontWeight": "normal", "titlePadding": 4}},
                "y": {"field": "pc2", "type": "quantitative",
                  "scale": {"domain": [-0.43, 0.433], "nice": false, "zero": false},
                  "axis": {"title": "PC2", "values": [-0.4, -0.3, -0.2, -0.1, 0, 0.1, 0.2, 0.3, 0.4],
                    "labelExpr": "round(datum.value*10) % 2 === 0 ? (datum.value < 0 ? '-' : '') + format(abs(datum.value), '.1f') : ''",
                    "labelAngle": -90, "labelFlush": false, "labelOverlap": false, "labelFontSize": 18, "labelPadding": 4,
                    "tickSize": 5, "tickColor": "#8a8a8a",
                    "tickOpacity": {"condition": {"test": "round(datum.value*10) % 2 !== 0", "value": 0}, "value": 1},
                    "domain": false, "grid": true, "gridColor": "#d4d4d4", "gridDash": [2, 2],
                    "titleFontSize": 20, "titleFontWeight": "normal", "titlePadding": 6}},
                "color": {"field": "cl", "type": "nominal",
                  "scale": {"domain": ["Cluster A", "Cluster B"], "range": ["#4BACC6", "#F79646"]},
                  "legend": {"orient": "none", "legendX": 266, "legendY": 347, "direction": "horizontal", "title": null,
                    "symbolType": "circle", "symbolSize": 180, "symbolOpacity": 1, "symbolStrokeWidth": 0,
                    "labelFontSize": 24, "labelOffset": 5, "columnPadding": 36}}
              }
            },
            {
              "data": {"values": [{"label": "Saliva", "pc1": 0.381, "pc2": -0.395}]},
              "mark": {"type": "text", "align": "right", "baseline": "alphabetic", "fontSize": 23, "color": "#111111"},
              "encoding": {
                "x": {"field": "pc1", "type": "quantitative"},
                "y": {"field": "pc2", "type": "quantitative"},
                "text": {"field": "label"}
              }
            }
          ]
        },
        {
          "width": 305, "height": 278,
          "view": {"stroke": "#9a9a9a", "strokeWidth": 1},
          "title": {"text": "BirThree", "fontSize": 26, "fontWeight": "bold", "offset": 6},
          "layer": [
            {
              "data": {"name": "bir"},
              "mark": {"type": "circle", "size": 14, "opacity": 0.75},
              "encoding": {
                "x": {"field": "pc1", "type": "quantitative",
                  "scale": {"domain": [-0.434, 0.434], "nice": false, "zero": false},
                  "axis": {"title": "PC1", "values": [-0.4, -0.3, -0.2, -0.1, 0, 0.1, 0.2, 0.3, 0.4],
                    "labelExpr": "round(datum.value*10) % 2 === 0 ? (datum.value < 0 ? '-' : '') + format(abs(datum.value), '.1f') : ''",
                    "labelFlush": false, "labelOverlap": false, "labelFontSize": 18, "labelPadding": 5,
                    "tickSize": 5, "tickColor": "#8a8a8a",
                    "tickOpacity": {"condition": {"test": "round(datum.value*10) % 2 !== 0", "value": 0}, "value": 1},
                    "domain": false, "grid": true, "gridColor": "#d4d4d4", "gridDash": [2, 2],
                    "titleFontSize": 20, "titleFontWeight": "normal", "titlePadding": 4}},
                "y": {"field": "pc2", "type": "quantitative",
                  "scale": {"domain": [-0.43, 0.433], "nice": false, "zero": false},
                  "axis": {"title": null, "values": [-0.4, -0.3, -0.2, -0.1, 0, 0.1, 0.2, 0.3, 0.4],
                    "labelExpr": "round(datum.value*10) % 2 === 0 ? (datum.value < 0 ? '-' : '') + format(abs(datum.value), '.1f') : ''",
                    "labelAngle": -90, "labelFlush": false, "labelOverlap": false, "labelFontSize": 18, "labelPadding": 4,
                    "tickSize": 5, "tickColor": "#8a8a8a",
                    "tickOpacity": {"condition": {"test": "round(datum.value*10) % 2 !== 0", "value": 0}, "value": 1},
                    "domain": false, "grid": true, "gridColor": "#d4d4d4", "gridDash": [2, 2]}},
                "color": {"field": "cl", "type": "nominal",
                  "scale": {"domain": ["Cluster A", "Cluster B"], "range": ["#4BACC6", "#F79646"]}}
              }
            },
            {
              "data": {"values": [{"label": "Saliva", "pc1": 0.397, "pc2": -0.395}]},
              "mark": {"type": "text", "align": "right", "baseline": "alphabetic", "fontSize": 23, "color": "#111111"},
              "encoding": {
                "x": {"field": "pc1", "type": "quantitative"},
                "y": {"field": "pc2", "type": "quantitative"},
                "text": {"field": "label"}
              }
            }
          ]
        }
      ]
    },
    {
      "title": {"text": "B", "anchor": "start", "frame": "group", "dx": -13, "offset": 7, "fontSize": 16, "fontWeight": "bold"},
      "columns": 2,
      "align": "each",
      "bounds": "flush",
      "spacing": {"row": 15, "column": 337},
      "resolve": {"scale": {"x": "independent", "y": "independent", "yOffset": "independent"}},
      "concat": [
        {
          "width": 240, "height": 339,
          "title": {"text": "CommCohort", "fontSize": 26, "fontWeight": "bold", "offset": 14, "dx": -3},
          "data": {"name": "bars"},
          "transform": [{"filter": "datum.grp === 1"}],
          "mark": {"type": "bar"},
          "encoding": {
            "x": {"field": "comm", "type": "quantitative", "scale": {"domain": [0, 100], "reverse": true, "nice": false},
              "axis": {"title": null, "values": [0, 25, 50, 75, 100], "labels": false, "ticks": false, "domain": false, "grid": true, "gridColor": "#d9d9d9", "gridWidth": 1.5}},
            "y": {"field": "taxon", "type": "nominal", "sort": {"field": "rank", "op": "min"}, "scale": {"paddingInner": 0.43, "paddingOuter": 0.24}, "axis": null},
            "yOffset": {"field": "cl", "type": "nominal", "scale": {"domain": ["Cluster A", "Cluster B"]}},
            "fill": {"field": "cl", "type": "nominal", "scale": {"range": ["#5B9BD5", "#ED7D31"]},
              "legend": {"orient": "none", "legendX": 258, "legendY": 1036, "direction": "horizontal", "title": null,
                "symbolType": "square", "symbolSize": 380, "symbolStrokeWidth": 0, "labelFontSize": 24, "labelOffset": 10, "columnPadding": 33}}
          }
        },
        {
          "width": 246, "height": 339,
          "title": {"text": "BirThree", "fontSize": 26, "fontWeight": "bold", "offset": 14, "dx": -6},
          "data": {"name": "bars"},
          "transform": [{"filter": "datum.grp === 1"}],
          "mark": {"type": "bar"},
          "encoding": {
            "x": {"field": "bir", "type": "quantitative", "scale": {"domain": [0, 100], "nice": false},
              "axis": {"title": null, "values": [0, 25, 50, 75, 100], "labels": false, "ticks": false, "domain": false, "grid": true, "gridColor": "#d9d9d9", "gridWidth": 1.5}},
            "y": {"field": "taxon", "type": "nominal", "sort": {"field": "rank", "op": "min"}, "scale": {"paddingInner": 0.43, "paddingOuter": 0.24},
              "axis": {"orient": "left", "title": null, "ticks": false, "tickSize": 0, "domain": false, "grid": false, "labelAlign": "center", "labelBaseline": "middle", "labelPadding": 168, "labelFontSize": 17, "labelFontStyle": "italic", "labelLimit": 400, "labelColor": "#000000"}},
            "yOffset": {"field": "cl", "type": "nominal", "scale": {"domain": ["Cluster A", "Cluster B"]}},
            "fill": {"field": "cl", "type": "nominal", "scale": {"range": ["#5B9BD5", "#ED7D31"]}}
          }
        },
        {
          "width": 240, "height": 25,
          "data": {"name": "bars"},
          "transform": [{"filter": "datum.grp === 2"}],
          "mark": {"type": "bar"},
          "encoding": {
            "x": {"field": "comm", "type": "quantitative", "scale": {"domain": [0, 100], "reverse": true, "nice": false},
              "axis": {"title": null, "values": [0, 25, 50, 75, 100], "labels": false, "ticks": false, "domain": false, "grid": true, "gridColor": "#d9d9d9", "gridWidth": 1.5}},
            "y": {"field": "taxon", "type": "nominal", "scale": {"paddingInner": 0.43, "paddingOuter": 0.36}, "axis": null},
            "yOffset": {"field": "cl", "type": "nominal", "scale": {"domain": ["Cluster A", "Cluster B"]}},
            "fill": {"field": "cl", "type": "nominal", "scale": {"range": ["#5B9BD5", "#ED7D31"]}}
          }
        },
        {
          "width": 246, "height": 25,
          "data": {"name": "bars"},
          "transform": [{"filter": "datum.grp === 2"}],
          "mark": {"type": "bar"},
          "encoding": {
            "x": {"field": "bir", "type": "quantitative", "scale": {"domain": [0, 100], "nice": false},
              "axis": {"title": null, "values": [0, 25, 50, 75, 100], "labels": false, "ticks": false, "domain": false, "grid": true, "gridColor": "#d9d9d9", "gridWidth": 1.5}},
            "y": {"field": "taxon", "type": "nominal", "scale": {"paddingInner": 0.43, "paddingOuter": 0.36},
              "axis": {"orient": "left", "title": null, "ticks": false, "tickSize": 0, "domain": false, "grid": false, "labelAlign": "center", "labelBaseline": "middle", "labelPadding": 168, "labelFontSize": 17, "labelLimit": 400, "labelColor": "#000000"}},
            "yOffset": {"field": "cl", "type": "nominal", "scale": {"domain": ["Cluster A", "Cluster B"]}},
            "fill": {"field": "cl", "type": "nominal", "scale": {"range": ["#5B9BD5", "#ED7D31"]}}
          }
        },
        {
          "width": 240, "height": 108,
          "data": {"name": "bars"},
          "transform": [{"filter": "datum.grp === 3"}],
          "mark": {"type": "bar"},
          "encoding": {
            "x": {"field": "comm", "type": "quantitative", "scale": {"domain": [0, 100], "reverse": true, "nice": false},
              "axis": {"title": null, "values": [0, 25, 50, 75, 100], "labelFlush": false, "labelFontSize": 21, "labelPadding": 14, "ticks": false, "domain": false, "grid": true, "gridColor": "#d9d9d9", "gridWidth": 1.5}},
            "y": {"field": "taxon", "type": "nominal", "sort": {"field": "rank", "op": "min"}, "scale": {"paddingInner": 0.43, "paddingOuter": 0.28}, "axis": null},
            "yOffset": {"field": "cl", "type": "nominal", "scale": {"domain": ["Cluster A", "Cluster B"]}},
            "fill": {"field": "cl", "type": "nominal", "scale": {"range": ["#5B9BD5", "#ED7D31"]}}
          }
        },
        {
          "width": 246, "height": 108,
          "data": {"name": "bars"},
          "transform": [{"filter": "datum.grp === 3"}],
          "mark": {"type": "bar"},
          "encoding": {
            "x": {"field": "bir", "type": "quantitative", "scale": {"domain": [0, 100], "nice": false},
              "axis": {"title": "Participants with ASV (%)", "titleFontSize": 26, "titleFontWeight": "bold", "titleColor": "#000000", "titleX": -168, "titleY": 68, "titleAlign": "center", "titleBaseline": "alphabetic",
                "values": [0, 25, 50, 75, 100], "labelFlush": false, "labelFontSize": 21, "labelPadding": 14, "ticks": false, "domain": false, "grid": true, "gridColor": "#d9d9d9", "gridWidth": 1.5}},
            "y": {"field": "taxon", "type": "nominal", "sort": {"field": "rank", "op": "min"}, "scale": {"paddingInner": 0.43, "paddingOuter": 0.28},
              "axis": {"orient": "left", "title": null, "ticks": false, "tickSize": 0, "domain": false, "grid": false, "labelAlign": "center", "labelBaseline": "middle", "labelPadding": 168, "labelFontSize": 17, "labelFontStyle": "italic", "labelLimit": 400, "labelColor": "#000000"}},
            "yOffset": {"field": "cl", "type": "nominal", "scale": {"domain": ["Cluster A", "Cluster B"]}},
            "fill": {"field": "cl", "type": "nominal", "scale": {"range": ["#5B9BD5", "#ED7D31"]}}
          }
        }
      ]
    }
  ]
}
